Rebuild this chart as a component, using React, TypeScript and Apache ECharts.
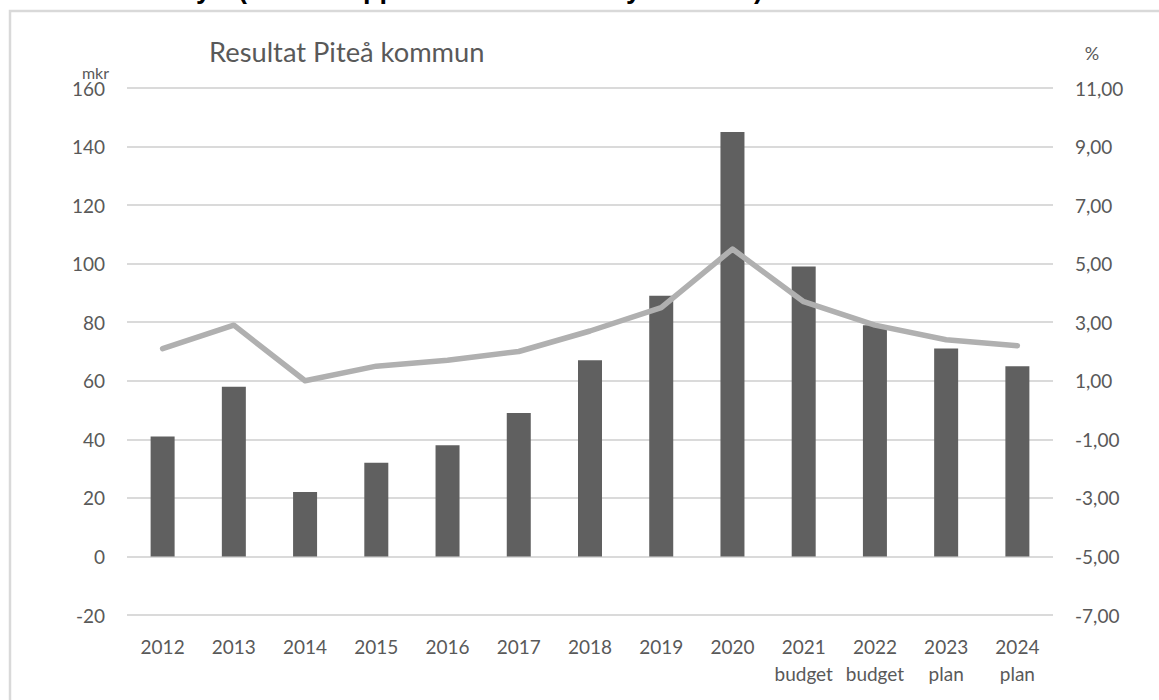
import React, { useEffect, useRef } from "react";
import * as echarts from "echarts";

const categories = [
  "2012", "2013", "2014", "2015", "2016", "2017", "2018", "2019", "2020",
  "2021\nbudget", "2022\nbudget", "2023\nplan", "2024\nplan",
];
const resultatMkr = [41, 58, 22, 32, 38, 49, 67, 89, 145, 99, 79, 71, 65];
const resultatProcent = [2.1, 2.9, 1.0, 1.5, 1.7, 2.0, 2.7, 3.5, 5.5, 3.7, 2.9, 2.4, 2.2];
const chartTitle = "Resultat Piteå kommun";
const leftUnit = "mkr";
const rightUnit = "%";
// visible bottoms of the cropped heading above the chart frame
const croppedHeading = [
  { ch: "y", x: 196 },
  { ch: "(", x: 238 },
  { ch: "pp", x: 363 },
  { ch: "y", x: 626 },
  { ch: ")", x: 754 },
];

const FONT = "Lato, 'Open Sans', sans-serif";
const TXT = "#595959";

export default function App() {
  const ref = useRef<HTMLDivElement>(null);
  useEffect(() => {
    if (!ref.current) return;
    const chart = echarts.init(ref.current, null, { renderer: "svg" });
    chart.setOption({
      animation: false,
      backgroundColor: "#ffffff",
      textStyle: { fontFamily: FONT },
      graphic: [
        {
          type: "rect",
          shape: { x: 10, y: 11, width: 1300, height: 900 },
          style: { fill: "none", stroke: "#d9d9d9", lineWidth: 2.5 },
          z: 0,
        },
        ...croppedHeading.map((c) => ({
          type: "text",
          x: c.x,
          y: -11,
          style: {
            text: c.ch,
            fill: "#000",
            font: "bold 27px 'Liberation Sans', sans-serif",
            textVerticalAlign: "middle",
          },
        })),
        {
          type: "text",
          x: 209,
          y: 51,
          style: {
            text: chartTitle,
            fill: TXT,
            fontFamily: FONT,
            fontSize: 27.3,
            textVerticalAlign: "middle",
          },
        },
        {
          type: "text",
          x: 109,
          y: 72,
          style: {
            text: leftUnit,
            fill: TXT,
            fontFamily: FONT,
            fontSize: 16,
            textAlign: "right",
            textVerticalAlign: "middle",
          },
        },
        {
          type: "text",
          x: 1092,
          y: 53,
          style: {
            text: rightUnit,
            fill: TXT,
            fontFamily: FONT,
            fontSize: 18,
            textAlign: "center",
            textVerticalAlign: "middle",
          },
        },
      ],
      grid: {
        left: 127,
        right: 106,
        top: 88,
        bottom: 85,
        containLabel: false,
        outerBoundsMode: "none",
      },
      xAxis: {
        type: "category",
        data: categories,
        axisLine: { show: false },
        axisTick: { show: false },
        axisLabel: {
          color: TXT,
          fontFamily: FONT,
          fontSize: 19,
          lineHeight: 27,
          margin: 18,
          interval: 0,
        },
      },
      yAxis: [
        {
          type: "value",
          min: -20,
          max: 160,
          interval: 20,
          axisLine: { show: false },
          axisTick: { show: false },
          axisLabel: { color: TXT, fontFamily: FONT, fontSize: 19, margin: 22 },
          splitLine: { lineStyle: { color: "#dadada", width: 2 } },
        },
        {
          type: "value",
          min: -7,
          max: 11,
          alignTicks: true,
          axisLine: { show: false },
          axisTick: { show: false },
          axisLabel: {
            color: TXT,
            fontFamily: FONT,
            fontSize: 19,
            margin: 22,
            formatter: (v: number) => v.toFixed(2).replace(".", ","),
          },
          splitLine: { show: false },
        },
      ],
      series: [
        {
          type: "bar",
          yAxisIndex: 0,
          data: resultatMkr,
          barWidth: 24,
          itemStyle: { color: "#606060" },
          z: 2,
        },
        {
          type: "line",
          yAxisIndex: 1,
          data: resultatProcent,
          symbol: "none",
          lineStyle: { color: "#b0b0b0", width: 5.5, cap: "round", join: "round" },
          z: 3,
        },
      ],
    });
    return () => chart.dispose();
  }, []);
  return (
    <div
      ref={ref}
      style={{ position: "fixed", left: 0, top: 0, width: 1159, height: 700, background: "#fff" }}
    />
  );
}
